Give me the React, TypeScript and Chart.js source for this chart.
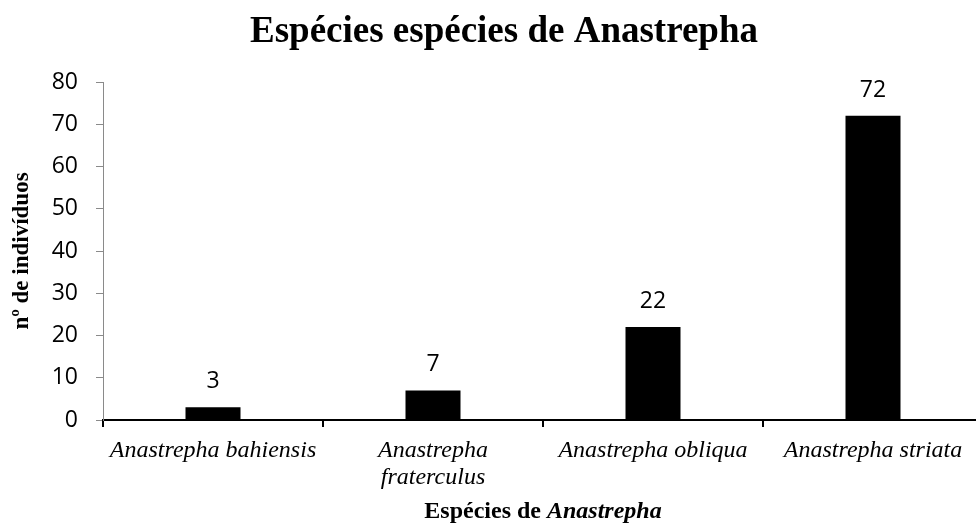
import React, { useEffect, useRef } from "react";
import { Chart, registerables } from "chart.js";

Chart.register(...registerables);

const chartTitle = "Espécies espécies de Anastrepha";
const yAxisTitle = "nº de indivíduos";
const xAxisTitlePlain = "Espécies de ";
const xAxisTitleItalic = "Anastrepha";
const categories: (string | string[])[] = [
  "Anastrepha bahiensis",
  ["Anastrepha", "fraterculus"],
  "Anastrepha obliqua",
  "Anastrepha striata",
];
const counts = [3, 7, 22, 72];
const yMin = 0;
const yMax = 80;
const yStep = 10;

const SERIF = "'Liberation Serif', 'Times New Roman', serif";
const SANS = "'Open Sans', 'Liberation Sans', sans-serif";

const textPlugin = {
  id: "customTexts",
  afterDraw(chart: any) {
    const ctx = chart.ctx;
    const area = chart.chartArea;
    ctx.save();
    ctx.fillStyle = "#000";
    // title
    ctx.font = `bold 37px ${SERIF}`;
    ctx.textAlign = "center";
    ctx.textBaseline = "alphabetic";
    ctx.fillText(chartTitle, 504, 42);
    // y axis title
    ctx.save();
    ctx.translate(22, (area.top + area.bottom) / 2);
    ctx.rotate(-Math.PI / 2);
    ctx.font = `bold 23px ${SERIF}`;
    ctx.textAlign = "center";
    ctx.textBaseline = "middle";
    ctx.fillText(yAxisTitle, 0, 0);
    ctx.restore();
    // x axis title (mixed styles)
    ctx.font = `bold 24px ${SERIF}`;
    const w1 = ctx.measureText(xAxisTitlePlain).width;
    ctx.font = `italic bold 24px ${SERIF}`;
    const w2 = ctx.measureText(xAxisTitleItalic).width;
    const cx = (area.left + area.right) / 2;
    const startX = cx - (w1 + w2) / 2;
    ctx.textAlign = "left";
    ctx.textBaseline = "alphabetic";
    ctx.font = `bold 24px ${SERIF}`;
    ctx.fillText(xAxisTitlePlain, startX, 518);
    ctx.font = `italic bold 24px ${SERIF}`;
    ctx.fillText(xAxisTitleItalic, startX + w1, 518);
    // data labels
    const meta = chart.getDatasetMeta(0);
    ctx.font = `23px ${SANS}`;
    ctx.textAlign = "center";
    ctx.textBaseline = "alphabetic";
    meta.data.forEach((bar: any, i: number) => {
      ctx.fillText(String(counts[i]), bar.x, bar.y - 19);
    });
    ctx.restore();
  },
};

export default function App() {
  const ref = useRef<HTMLCanvasElement>(null);
  useEffect(() => {
    if (!ref.current) return;
    const chart = new Chart(ref.current, {
      type: "bar",
      data: {
        labels: categories,
        datasets: [
          {
            data: counts,
            backgroundColor: "#000",
            borderWidth: 0,
            categoryPercentage: 1,
            barPercentage: 0.25,
          },
        ],
      },
      options: {
        responsive: false,
        animation: false,
        layout: { padding: { top: 82, left: 0, right: 27, bottom: 0 } },
        plugins: {
          legend: { display: false },
          title: { display: false },
          tooltip: { enabled: false },
        },
        scales: {
          x: {
            afterFit: (s: any) => {
              s.height = 105;
            },
            border: { display: true, color: "#000", width: 2 },
            grid: {
              display: true,
              drawOnChartArea: false,
              drawTicks: true,
              tickLength: 7,
              color: "#000",
              lineWidth: 2,
              offset: true,
            },
            ticks: {
              color: "#000",
              font: { family: SERIF, size: 24, style: "italic", lineHeight: 1.12 },
              padding: 10,
              maxRotation: 0,
              minRotation: 0,
              autoSkip: false,
            },
          },
          y: {
            min: yMin,
            max: yMax,
            afterFit: (s: any) => {
              s.width = 103;
            },
            border: { display: true, color: "#8a8a8a", width: 1 },
            grid: {
              display: true,
              drawOnChartArea: false,
              drawTicks: true,
              tickLength: 7,
              color: "#8a8a8a",
            },
            ticks: {
              stepSize: yStep,
              color: "#000",
              font: { family: SANS, size: 23 },
              padding: 18,
            },
          },
        },
      },
      plugins: [textPlugin],
    });
    return () => chart.destroy();
  }, []);
  return (
    <div
      style={{
        position: "absolute",
        left: 0,
        top: 0,
        width: 976,
        height: 525,
        overflow: "hidden",
        background: "#fff",
      }}
    >
      <canvas ref={ref} width={1010} height={525} style={{ display: "block" }} />
    </div>
  );
}
